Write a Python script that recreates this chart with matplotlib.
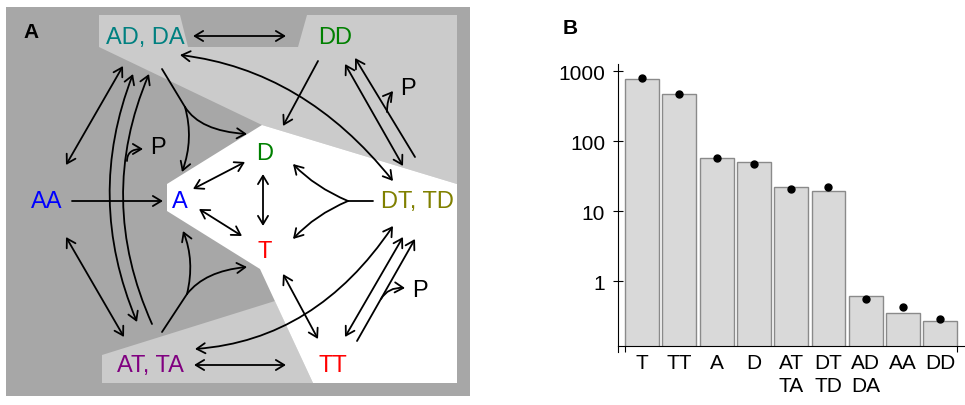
import matplotlib.pyplot as plt
from matplotlib.patches import FancyArrowPatch, Polygon, Rectangle
from matplotlib.path import Path
from matplotlib.ticker import NullLocator

plt.rcParams['font.family'] = ['Liberation Sans', 'DejaVu Sans']

# panel B data
states = ['T', 'TT', 'A', 'D', 'AT\nTA', 'DT\nTD', 'AD\nDA', 'AA', 'DD']
bar_heights = [785, 480, 58, 50, 22, 19.5, 0.62, 0.35, 0.265]
dot_values = [795, 475, 57, 48, 20.5, 22.5, 0.55, 0.42, 0.29]

# panel A nodes (pixel positions in the figure, y down)
node_labels = ['AD, DA', 'DD', 'AA', 'A', 'D', 'T', 'DT, TD', 'AT, TA', 'TT']
node_x = [145, 335, 47, 180, 265, 265, 417, 150, 333]
node_y = [38, 38, 202, 202, 154, 252, 202, 366, 366]
node_colors = ['#008080', '#008000', '#0000ff', '#0000ff', '#008000',
               '#ff0000', '#808000', '#800080', '#ff0000']

fig = plt.figure(figsize=(9.65, 4.06), dpi=100)

# ---- panel A: drawn in pixel coordinates ----
ax0 = fig.add_axes([0, 0, 1, 1])
ax0.set_xlim(0, 965)
ax0.set_ylim(406, 0)
ax0.axis('off')

ax0.add_patch(Rectangle((6, 8), 464, 389, color='#a7a7a7', lw=0))
ax0.add_patch(Polygon([(99, 16), (180, 16), (188, 48), (298, 48), (307, 16),
                       (457, 16), (457, 185), (262, 126), (99, 48)],
                      color='#cbcbcb', lw=0))
ax0.add_patch(Polygon([(102, 356), (275, 302), (313, 384), (102, 384)],
                      color='#cbcbcb', lw=0))
ax0.add_patch(Polygon([(262, 126), (457, 185), (457, 384), (313, 384),
                       (260, 270), (167, 212), (167, 185)],
                      color='white', lw=0))

CODES = {2: [Path.MOVETO, Path.LINETO],
         3: [Path.MOVETO, Path.CURVE3, Path.CURVE3],
         4: [Path.MOVETO, Path.CURVE4, Path.CURVE4, Path.CURVE4]}


def connector(pts, style='->'):
    if style != '-':
        style = style + ',head_length=0.55,head_width=0.33'
    p = Path(pts, CODES[len(pts)])
    ax0.add_patch(FancyArrowPatch(path=p, arrowstyle=style, mutation_scale=11,
                                  lw=1.3, color='black'))


connector([(193, 37), (286, 37)], '<->')
connector([(194, 366), (286, 366)], '<->')
connector([(72, 202), (163, 202)], '->')
connector([(66, 166), (123, 67)], '<->')
connector([(66, 238), (124, 338)], '<->')
# long curves on the left
connector([(133, 75), (85, 199), (137, 323)], '<->')
connector([(152, 325), (96, 200), (149, 75)], '->')
connector([(127, 162), (127, 150), (143, 150)], '->')
# AD,DA splitting to A and D
connector([(162, 70), (185, 108)], '-')
connector([(185, 108), (194, 140), (182, 173)], '->')
connector([(185, 108), (200, 132), (247, 135)], '->')
# AT,TA splitting to A and T
connector([(162, 333), (187, 295)], '-')
connector([(187, 295), (195, 262), (183, 232)], '->')
connector([(187, 295), (205, 272), (247, 268)], '->')
connector([(318, 62), (283, 127)], '->')
connector([(180, 56), (304, 71), (393, 182)], '<->')
connector([(195, 350), (316, 341), (393, 227)], '<->')
# DD <-> DT,TD
connector([(345, 65), (403, 167)], '<->')
connector([(415, 158), (355, 59)], '->')
connector([(387, 113), (387, 100), (393, 92)], '->')
# TT <-> DT,TD
connector([(345, 338), (403, 238)], '<->')
connector([(357, 342), (415, 240)], '->')
connector([(381, 300), (388, 288), (405, 289)], '->')
# inner triangle
connector([(193, 190), (245, 163)], '<->')
connector([(199, 210), (242, 237)], '<->')
connector([(263, 175), (263, 227)], '<->')
connector([(373, 202), (348, 202)], '-')
connector([(348, 202), (315, 188), (293, 165)], '->')
connector([(348, 202), (315, 216), (293, 240)], '->')
connector([(283, 275), (318, 340)], '<->')

for lab, x, y, c in zip(node_labels, node_x, node_y, node_colors):
    ax0.text(x, y, lab, color=c, fontsize=17, ha='center', va='center')
for x, y in [(158, 148), (408, 89), (420, 291)]:
    ax0.text(x, y, 'P', fontsize=17, ha='center', va='center')

ax0.text(31, 32, 'A', fontsize=15, fontweight='bold', ha='center', va='center')
ax0.text(570, 29, 'B', fontsize=15, fontweight='bold', ha='center', va='center')

# ---- panel B ----
ax = fig.add_axes([618 / 965, 1 - 347 / 406, 347 / 965, 282 / 406])
pos = list(range(len(states)))
ax.bar(pos, bar_heights, width=0.91, color='#d9d9d9', edgecolor='#8a8a8a', lw=1)
ax.plot(pos, dot_values, 'o', color='black', ms=5)
ax.set_yscale('log')
ax.set_ylim(0.118, 1280)
ax.set_xlim(-0.643, 8.66)
ax.set_yticks([1, 10, 100, 1000])
ax.set_yticklabels(['1', '10', '100', '1000'])
ax.yaxis.set_minor_locator(NullLocator())
ax.tick_params(axis='y', direction='inout', length=6.5, width=0.8,
               labelsize=15, pad=6)
ax.set_xticks(pos)
ax.set_xticklabels(states, linespacing=1.3)
ax.set_xticks([-0.455, 8.455], minor=True)
ax.tick_params(axis='x', which='major', length=0, labelsize=15, pad=5)
ax.tick_params(axis='x', which='minor', length=4.3, width=0.8, direction='out')
ax.spines['top'].set_visible(False)
ax.spines['right'].set_visible(False)
ax.spines['left'].set_linewidth(0.8)
ax.spines['bottom'].set_linewidth(0.8)
ax.plot([0, 0], [0, -6 / 282], transform=ax.transAxes, color='black',
        lw=0.8, clip_on=False)
ax.patch.set_alpha(0)

fig.savefig('out.png', dpi=100)
